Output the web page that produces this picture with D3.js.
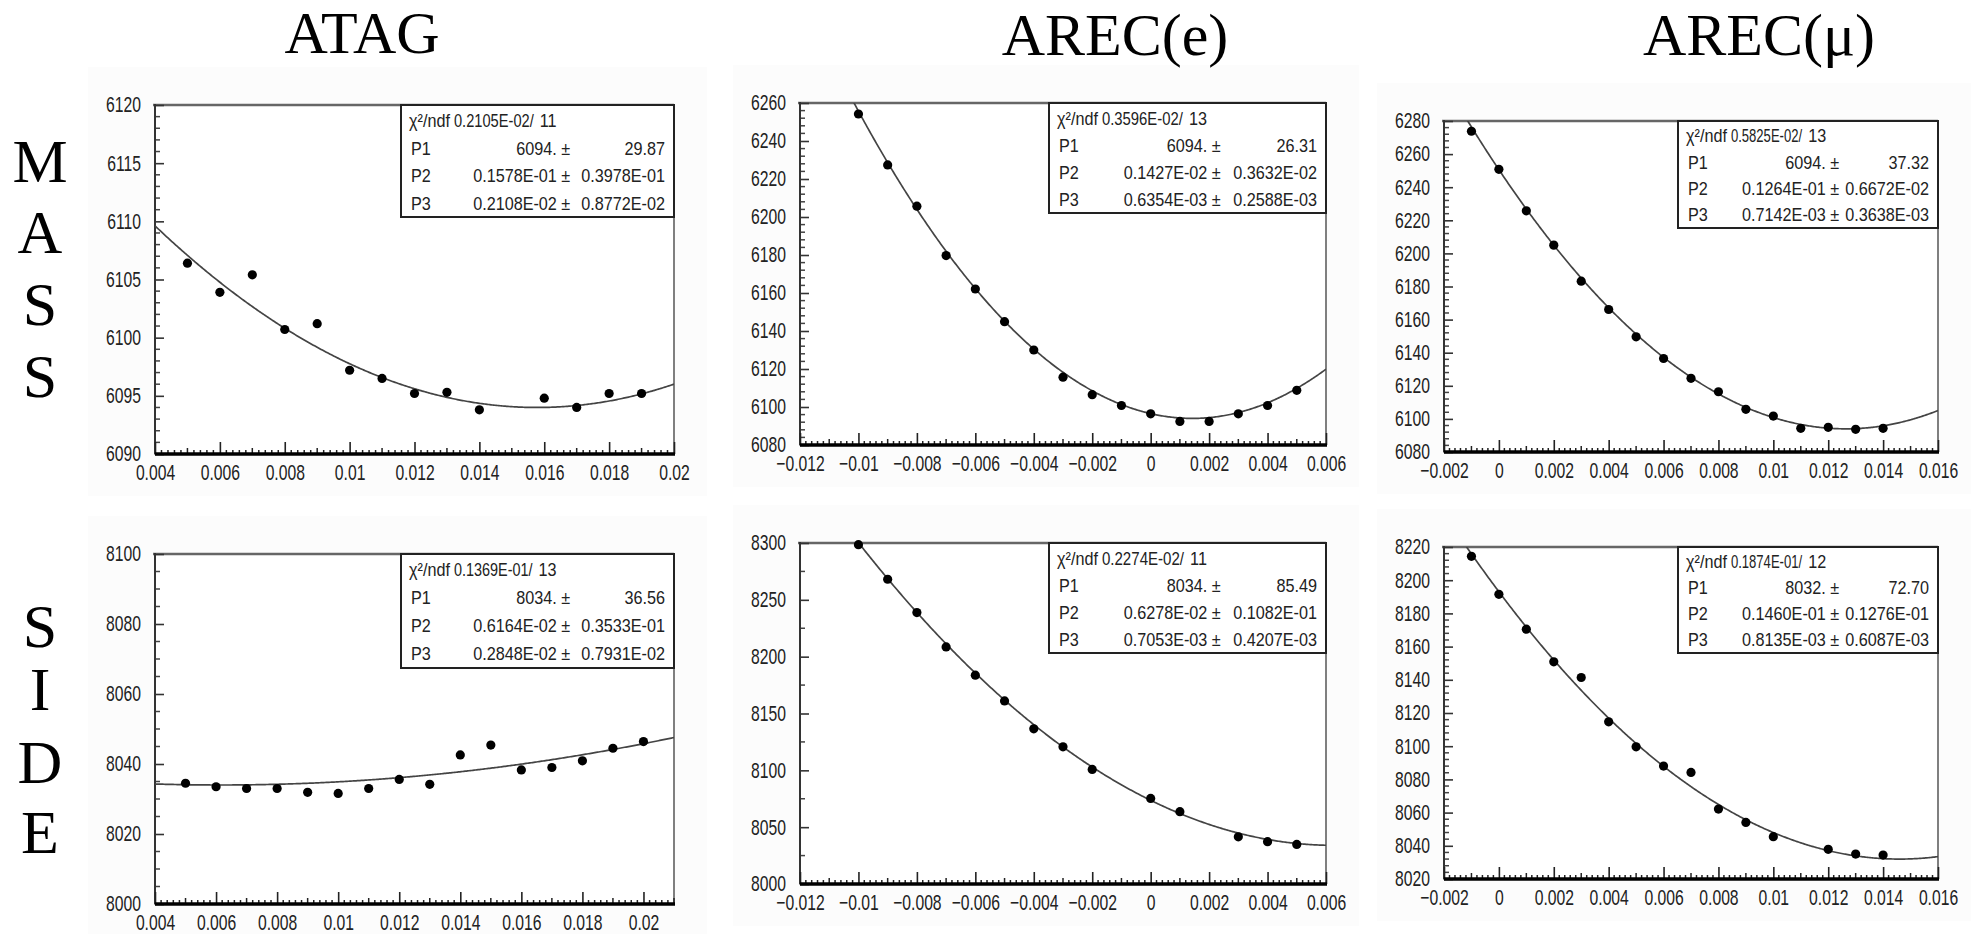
<!DOCTYPE html>
<html><head><meta charset="utf-8">
<script src="https://cdn.jsdelivr.net/npm/d3@7"></script>
<style>body{margin:0;background:#fff;overflow:hidden}</style>
</head><body><svg id="c" width="1973" height="934"></svg>
<script>
// ---------------- data ----------------
const columnTitles = ["ATAG", "AREC(e)", "AREC(μ)"];
const rowTitles = ["MASS", "SIDE"];

// MASS row
const atagMassX = [0.005,0.006,0.007,0.008,0.009,0.010,0.011,0.012,0.013,0.014,0.016,0.017,0.018,0.019];
const atagMassY = [6106.4,6103.9,6105.4,6100.7,6101.2,6097.2,6096.5,6095.2,6095.3,6093.8,6094.8,6094.0,6095.2,6095.2];
const arecEMassX = [-0.010,-0.009,-0.008,-0.007,-0.006,-0.005,-0.004,-0.003,-0.002,-0.001,0.000,0.001,0.002,0.003,0.004,0.005];
const arecEMassY = [6254.2,6227.4,6205.7,6179.7,6162.1,6144.9,6130.0,6115.7,6106.5,6100.8,6096.4,6092.4,6092.4,6096.4,6100.8,6108.8];
const arecMuMassX = [-0.001,0.000,0.001,0.002,0.003,0.004,0.005,0.006,0.007,0.008,0.009,0.010,0.011,0.012,0.013,0.014];
const arecMuMassY = [6273.8,6250.8,6225.7,6205.0,6183.2,6166.1,6149.6,6136.5,6124.5,6116.4,6105.8,6101.7,6094.3,6094.9,6093.7,6094.3];
// SIDE row
const atagSideX = [0.005,0.006,0.007,0.008,0.009,0.010,0.011,0.012,0.013,0.014,0.015,0.016,0.017,0.018,0.019,0.020];
const atagSideY = [8034.5,8033.5,8033.0,8033.0,8031.9,8031.6,8033.0,8035.6,8034.2,8042.6,8045.4,8038.3,8039.0,8040.9,8044.5,8046.4];
const arecESideX = [-0.010,-0.009,-0.008,-0.007,-0.006,-0.005,-0.004,-0.003,-0.002,0.000,0.001,0.003,0.004,0.005];
const arecESideY = [8298.5,8268.1,8238.8,8208.6,8183.7,8161.1,8136.5,8120.7,8100.8,8075.3,8063.6,8041.5,8037.2,8034.8];
const arecMuSideX = [-0.001,0.000,0.001,0.002,0.003,0.004,0.005,0.006,0.007,0.008,0.009,0.010,0.012,0.013,0.014];
const arecMuSideY = [8214.4,8191.5,8170.5,8150.8,8141.4,8114.7,8099.6,8088.0,8084.2,8062.1,8054.1,8045.5,8037.9,8035.0,8034.4];

// fit statistics boxes (order: ATAG/AREC(e)/AREC(mu) MASS, then SIDE)
const statChi2  = ["0.2105E-02","0.3596E-02","0.5825E-02","0.1369E-01","0.2274E-02","0.1874E-01"];
const statNdf   = ["11","13","13","13","11","12"];
const statP1    = ["6094.","6094.","6094.","8034.","8034.","8032."];
const statP1Err = ["29.87","26.31","37.32","36.56","85.49","72.70"];
const statP2    = ["0.1578E-01","0.1427E-02","0.1264E-01","0.6164E-02","0.6278E-02","0.1460E-01"];
const statP2Err = ["0.3978E-01","0.3632E-02","0.6672E-02","0.3533E-01","0.1082E-01","0.1276E-01"];
const statP3    = ["0.2108E-02","0.6354E-03","0.7142E-03","0.2848E-02","0.7053E-03","0.8135E-03"];
const statP3Err = ["0.8772E-02","0.2588E-03","0.3638E-03","0.7931E-02","0.4207E-03","0.6087E-03"];

// axis tick labels
const xTicksATAG   = [0.004,0.006,0.008,0.01,0.012,0.014,0.016,0.018,0.02];
const xTicksARECe  = [-0.012,-0.01,-0.008,-0.006,-0.004,-0.002,0,0.002,0.004,0.006];
const xTicksARECmu = [-0.002,0,0.002,0.004,0.006,0.008,0.01,0.012,0.014,0.016];
const xRangeATAGMass = [0.004, 0.020];
const xRangeATAGSide = [0.004, 0.021];
const xRangeARECe  = [-0.012, 0.006];
const xRangeARECmu = [-0.002, 0.016];
const yTicksATAGMass   = [6090,6095,6100,6105,6110,6115,6120];
const yTicksARECeMass  = [6080,6100,6120,6140,6160,6180,6200,6220,6240,6260];
const yTicksARECmuMass = [6080,6100,6120,6140,6160,6180,6200,6220,6240,6260,6280];
const yTicksATAGSide   = [8000,8020,8040,8060,8080,8100];
const yTicksARECeSide  = [8000,8050,8100,8150,8200,8250,8300];
const yTicksARECmuSide = [8020,8040,8060,8080,8100,8120,8140,8160,8180,8200,8220];

// ---------------- layout ----------------
const panels = [
  {xs: atagMassX,  ys: atagMassY,  xt: xTicksATAG,   xr: xRangeATAGMass, yt: yTicksATAGMass,   ySub: 5, f:{l:155,r:674,t:105,b:454}, box:{l:401,b:217}},
  {xs: arecEMassX, ys: arecEMassY, xt: xTicksARECe,  xr: xRangeARECe,    yt: yTicksARECeMass,  ySub: 5, f:{l:800,r:1326,t:103,b:445}, box:{l:1049,b:213}},
  {xs: arecMuMassX,ys: arecMuMassY,xt: xTicksARECmu, xr: xRangeARECmu,   yt: yTicksARECmuMass, ySub: 5, f:{l:1444,r:1938,t:121,b:452}, box:{l:1678,b:228}},
  {xs: atagSideX,  ys: atagSideY,  xt: xTicksATAG,   xr: xRangeATAGSide, yt: yTicksATAGSide,   ySub: 4, f:{l:155,r:674,t:554,b:904}, box:{l:401,b:668}},
  {xs: arecESideX, ys: arecESideY, xt: xTicksARECe,  xr: xRangeARECe,    yt: yTicksARECeSide,  ySub: 2, f:{l:800,r:1326,t:543,b:884}, box:{l:1049,b:653}},
  {xs: arecMuSideX,ys: arecMuSideY,xt: xTicksARECmu, xr: xRangeARECmu,   yt: yTicksARECmuSide, ySub: 5, f:{l:1444,r:1938,t:547,b:879}, box:{l:1678,b:653}},
];
const titleX = [362, 1115, 1759];
const titleBase = [53, 55, 55];
const rowLetterBase = [[182,253,325,397],[647,710,783,853]];

const svg = d3.select("#c");
svg.append("rect").attr("width",1973).attr("height",934).attr("fill","#fff");

const SANS = "'Liberation Sans', Arial, sans-serif";
const SERIF = "'Liberation Serif', 'Times New Roman', serif";

// panel backgrounds (scanned look)
panels.forEach(p => {
  svg.append("rect").attr("x",p.f.l-67).attr("y",p.f.t-38)
    .attr("width",p.f.r-p.f.l+100).attr("height",p.f.b-p.f.t+80).attr("fill","#fcfcfc");
});

// column titles
svg.selectAll("text.ctitle").data(columnTitles).enter().append("text")
  .attr("class","ctitle").attr("x",(d,i)=>titleX[i]).attr("y",(d,i)=>titleBase[i])
  .attr("text-anchor","middle").attr("font-family",SERIF).attr("font-size",60).attr("fill","#000")
  .text(d=>d);

// row titles (vertical letters)
rowTitles.forEach((t, r) => {
  t.split("").forEach((ch, k) => {
    svg.append("text").attr("x",40).attr("y",rowLetterBase[r][k])
      .attr("text-anchor","middle").attr("font-family",SERIF).attr("font-size",62).attr("fill","#000")
      .text(ch);
  });
});

const fmtX = d3.format("~g");
const SX = 0.73;

// helper to measure text width
const measure = (s, size) => {
  const t = svg.append("text").attr("font-family",SANS).attr("font-size",size).text(s);
  const w = t.node().getComputedTextLength(); t.remove(); return w;
};

panels.forEach((p, i) => {
  const f = p.f;
  const x = d3.scaleLinear().domain(p.xr).range([f.l, f.r]);
  const y = d3.scaleLinear().domain(d3.extent(p.yt)).range([f.b, f.t]);
  const g = svg.append("g");

  const cid = "clip"+i;
  svg.append("clipPath").attr("id",cid).append("rect")
    .attr("x",f.l).attr("y",f.t).attr("width",f.r-f.l).attr("height",f.b-f.t);

  // frame
  g.append("rect").attr("x",f.l).attr("y",f.t).attr("width",f.r-f.l).attr("height",f.b-f.t)
    .attr("fill","#fff").attr("stroke","#555").attr("stroke-width",1.5);
  g.append("line").attr("x1",f.l-2).attr("x2",f.r).attr("y1",f.t).attr("y2",f.t)
    .attr("stroke","#666").attr("stroke-width",2.5);

  // y minor ticks
  const yStep = p.yt[1]-p.yt[0];
  const yMinor = [];
  for (let k=0;k<p.yt.length-1;k++) for (let s=1;s<p.ySub;s++) yMinor.push(p.yt[k]+yStep*s/p.ySub);
  g.append("g").selectAll("line").data(yMinor).enter().append("line")
    .attr("x1",f.l).attr("x2",f.l+5).attr("y1",d=>y(d)).attr("y2",d=>y(d))
    .attr("stroke","#444").attr("stroke-width",1.5);

  // y axis
  const ya = g.append("g").attr("transform",`translate(${f.l},0)`)
    .call(d3.axisLeft(y).tickValues(p.yt).tickSize(-9).tickPadding(14).tickFormat(d3.format("d")));
  ya.select(".domain").remove();
  ya.selectAll(".tick line").attr("stroke","#333").attr("stroke-width",1.6);
  ya.selectAll(".tick text").attr("font-family",SANS).attr("font-size",21.5).attr("fill","#222")
    .each(function(){ const t=d3.select(this); const tx=+t.attr("x"); t.attr("x",0).attr("transform",`translate(${tx},0) scale(${SX},1)`); });
  g.append("line").attr("x1",f.l).attr("x2",f.l).attr("y1",f.t-1).attr("y2",f.b)
    .attr("stroke","#333").attr("stroke-width",2);

  // x minor ticks
  const xStep = p.xt[1]-p.xt[0];
  const xMinor = [];
  for (let k=0;k<p.xt.length;k++) for (let s=1;s<10;s++) {
    const v = p.xt[k]+xStep*s/10;
    if (v < p.xr[1]+1e-9) xMinor.push({v, mid: s===5});
  }
  g.append("g").selectAll("line").data(xMinor).enter().append("line")
    .attr("x1",d=>x(d.v)).attr("x2",d=>x(d.v)).attr("y1",f.b).attr("y2",d=>f.b-(d.mid?6:4))
    .attr("stroke","#222").attr("stroke-width",1.5);

  // x axis
  const xa = g.append("g").attr("transform",`translate(0,${f.b})`)
    .call(d3.axisBottom(x).tickValues(p.xt).tickSize(-12).tickPadding(11).tickFormat(fmtX));
  xa.select(".domain").remove();
  xa.selectAll(".tick line").attr("stroke","#222").attr("stroke-width",1.6);
  xa.selectAll(".tick text").attr("font-family",SANS).attr("font-size",21.5).attr("fill","#222")
    .attr("transform",`scale(${SX},1)`);
  g.append("line").attr("x1",f.l).attr("x2",f.r+1).attr("y1",f.b).attr("y2",f.b)
    .attr("stroke","#000").attr("stroke-width",3.5);

  // fit curve: y = P1 + 0.5*((x-P2)/P3)^2 with the printed fit parameters
  const P1 = Number(statP1[i]), P2 = Number(statP2[i]), P3 = Number(statP3[i]);
  const xs = d3.range(0, 401).map(k => p.xr[0] + (p.xr[1]-p.xr[0])*k/400);
  const fitLine = d3.line().x(d=>x(d)).y(d=>y(P1 + 0.5*Math.pow((d-P2)/P3,2)));
  g.append("path").datum(xs).attr("d",fitLine).attr("fill","none")
    .attr("stroke","#444").attr("stroke-width",1.7).attr("clip-path",`url(#${cid})`);

  // data points
  g.append("g").selectAll("circle").data(p.xs.map((v,k)=>[v,p.ys[k]])).enter().append("circle")
    .attr("cx",d=>x(d[0])).attr("cy",d=>y(d[1])).attr("r",4.6).attr("fill","#000");

  // stats box
  const bl = p.box.l, br = f.r, bt = f.t, bb = p.box.b, bw = br-bl, bh = bb-bt;
  g.append("rect").attr("x",bl).attr("y",bt).attr("width",bw).attr("height",bh)
    .attr("fill","#fff").attr("stroke","#222").attr("stroke-width",2);
  const rowY = k => bt + bh*(0.14+0.245*k) + 6.5;
  const FS = 18, KS = 0.9;
  const txt = (s, tx, ty, anchor, ks) => g.append("text")
    .attr("transform",`translate(${tx},${ty}) scale(${ks||KS},1)`).attr("text-anchor",anchor)
    .attr("font-family",SANS).attr("font-size",FS).attr("fill","#222").text(s);

  // chi2/ndf row
  const x0 = bl+8;
  const labW = measure("χ²/ndf", FS)*KS;
  const chiVal = statChi2[i]+"/";
  const ndfEnd = bl+bw*0.57;
  const ndfW = measure(statNdf[i], FS)*KS;
  const vS = x0 + labW + 4, vE = ndfEnd - ndfW - 6;
  const vK = Math.min(KS, (vE - vS)/measure(chiVal, FS));
  txt("χ²/ndf", x0, rowY(0), "start");
  txt(chiVal, vS, rowY(0), "start", vK);
  txt(statNdf[i], ndfEnd, rowY(0), "end");

  const rows = [["P1",statP1[i],statP1Err[i]],["P2",statP2[i],statP2Err[i]],["P3",statP3[i],statP3Err[i]]];
  rows.forEach((r,k) => {
    txt(r[0], bl+10, rowY(k+1), "start");
    txt(r[1]+" ±", bl+bw*0.62, rowY(k+1), "end");
    txt(r[2], br-9, rowY(k+1), "end");
  });
});
</script></body></html>
